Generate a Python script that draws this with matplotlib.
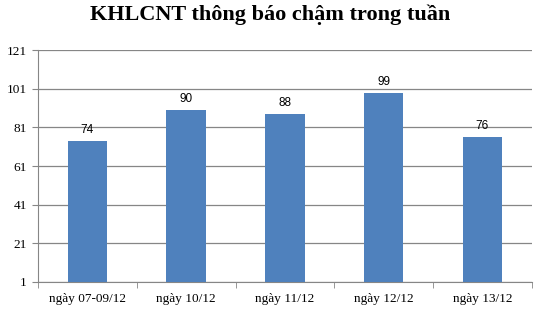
import matplotlib.pyplot as plt
import numpy as np

categories = ['ngày 07-09/12', 'ngày 10/12', 'ngày 11/12', 'ngày 12/12', 'ngày 13/12']
values = [74, 90, 88, 99, 76]
y_ticks = [1, 21, 41, 61, 81, 101, 121]

fig = plt.figure(figsize=(5.41, 3.09), dpi=100)
ax = fig.add_axes([0.0702, 0.0874, 0.9128, 0.7506])

x = np.arange(len(categories))
base = y_ticks[0]
bars = ax.bar(x, [v - base for v in values], bottom=base, width=0.4,
              color='#4F81BD', zorder=3)
for xi, v in zip(x, values):
    ax.text(xi, v + 2.5, str(v), ha='center', va='bottom', fontsize=8.5,
            family='Liberation Sans', zorder=4)

ax.set_xlim(-0.5, len(categories) - 0.5)
ax.set_ylim(y_ticks[0], y_ticks[-1])
ax.set_yticks(y_ticks)
ax.set_yticklabels([str(t) for t in y_ticks], family='Liberation Serif', fontsize=9.5)
ax.yaxis.grid(True, color='#868686', linewidth=0.9, zorder=0)

ax.set_xticks(x)
ax.set_xticklabels(categories, family='Liberation Serif', fontsize=9.5)
ax.tick_params(axis='x', length=0, pad=8)
ax.set_xticks(np.arange(-0.5, len(categories)), minor=True)
ax.tick_params(axis='x', which='minor', length=4, direction='out', color='#868686')
ax.tick_params(axis='y', length=4, direction='out', color='#868686', pad=4)

for side in ['top', 'right']:
    ax.spines[side].set_visible(False)
for side in ['left', 'bottom']:
    ax.spines[side].set_color('#868686')

fig.suptitle('KHLCNT thông báo chậm trong tuần', family='Liberation Serif',
             fontweight='bold', fontsize=16, y=0.985, va='top')

plt.savefig('out.png', dpi=100)
